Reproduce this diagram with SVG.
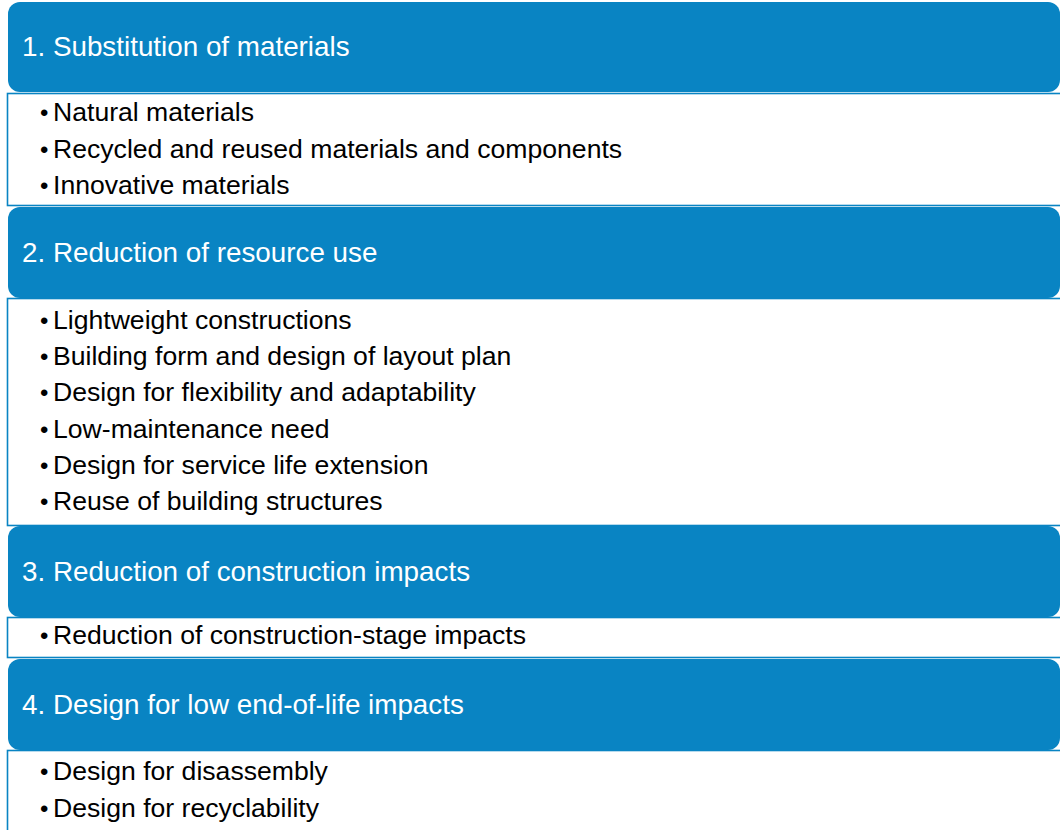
<svg xmlns="http://www.w3.org/2000/svg" width="1060" height="830" viewBox="0 0 1060 830">
<style>
.hdr{fill:#0984C3}
.box{fill:#FFFFFF;stroke:#0984C3;stroke-width:1.6}
.ht{font-family:"Liberation Sans",Arial,sans-serif;font-size:27.8px;fill:#FFFFFF}
.bt{font-family:"Liberation Sans",Arial,sans-serif;font-size:26.6px;fill:#000000}
.bl{font-family:"Liberation Sans",Arial,sans-serif;font-size:24px;fill:#000000}
</style>
<rect width="1060" height="830" fill="#FFFFFF"/>
<g id="section1">
<rect class="box" x="7.5" y="93.5" width="1070" height="112"/>
<rect class="hdr" x="8" y="2" width="1052" height="90" rx="12"/>
<text class="ht" x="22" y="55.5">1. Substitution of materials</text>
<text class="bl" x="40" y="121">•</text><text class="bt" x="53" y="121">Natural materials</text>
<text class="bl" x="40" y="158">•</text><text class="bt" x="53" y="158">Recycled and reused materials and components</text>
<text class="bl" x="40" y="194">•</text><text class="bt" x="53" y="194">Innovative materials</text>
</g>
<g id="section2">
<rect class="box" x="7.5" y="298.5" width="1070" height="227"/>
<rect class="hdr" x="8" y="207" width="1052" height="91" rx="12"/>
<text class="ht" x="22" y="261.5">2. Reduction of resource use</text>
<text class="bl" x="40" y="329">•</text><text class="bt" x="53" y="329">Lightweight constructions</text>
<text class="bl" x="40" y="365">•</text><text class="bt" x="53" y="365">Building form and design of layout plan</text>
<text class="bl" x="40" y="401">•</text><text class="bt" x="53" y="401">Design for flexibility and adaptability</text>
<text class="bl" x="40" y="438">•</text><text class="bt" x="53" y="438">Low-maintenance need</text>
<text class="bl" x="40" y="474">•</text><text class="bt" x="53" y="474">Design for service life extension</text>
<text class="bl" x="40" y="510">•</text><text class="bt" x="53" y="510">Reuse of building structures</text>
</g>
<g id="section3">
<rect class="box" x="7.5" y="617.5" width="1070" height="40"/>
<rect class="hdr" x="8" y="526" width="1052" height="91" rx="12"/>
<text class="ht" x="22" y="580.5">3. Reduction of construction impacts</text>
<text class="bl" x="40" y="644">•</text><text class="bt" x="53" y="644">Reduction of construction-stage impacts</text>
</g>
<g id="section4">
<rect class="box" x="7.5" y="750.5" width="1070" height="100"/>
<rect class="hdr" x="8" y="659" width="1052" height="91" rx="12"/>
<text class="ht" x="22" y="713.5">4. Design for low end-of-life impacts</text>
<text class="bl" x="40" y="780">•</text><text class="bt" x="53" y="780">Design for disassembly</text>
<text class="bl" x="40" y="817">•</text><text class="bt" x="53" y="817">Design for recyclability</text>
</g>
<g id="connectors"></g>
</svg>
